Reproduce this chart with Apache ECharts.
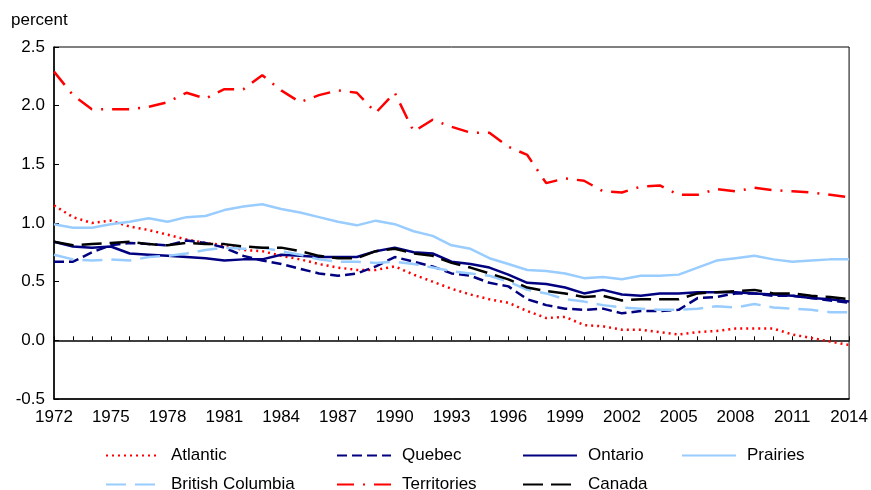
<!DOCTYPE html>
<html>
<head>
<meta charset="utf-8">
<script src="https://cdn.jsdelivr.net/npm/echarts@6/dist/echarts.min.js"></script>
<style>
  html, body { margin: 0; padding: 0; background: #fff; }
  #chart { width: 871px; height: 490px; }
</style>
</head>
<body>
<div id="chart"></div>
<script>
const years = [1972, 1973, 1974, 1975, 1976, 1977, 1978, 1979, 1980, 1981, 1982, 1983, 1984, 1985,
  1986, 1987, 1988, 1989, 1990, 1991, 1992, 1993, 1994, 1995, 1996, 1997, 1998, 1999, 2000,
  2001, 2002, 2003, 2004, 2005, 2006, 2007, 2008, 2009, 2010, 2011, 2012, 2013, 2014];

const atlantic = [1.15, 1.05, 1.00, 1.02, 0.97, 0.94, 0.90, 0.86, 0.83, 0.81, 0.77, 0.76, 0.72, 0.69,
  0.65, 0.62, 0.60, 0.60, 0.63, 0.56, 0.50, 0.44, 0.39, 0.35, 0.32, 0.25, 0.19, 0.20, 0.13,
  0.12, 0.09, 0.09, 0.07, 0.05, 0.07, 0.08, 0.10, 0.10, 0.10, 0.05, 0.02, -0.01, -0.04];
const quebec = [0.67, 0.67, 0.75, 0.81, 0.83, 0.82, 0.81, 0.85, 0.83, 0.79, 0.72, 0.68, 0.65, 0.61,
  0.57, 0.55, 0.57, 0.63, 0.71, 0.67, 0.63, 0.57, 0.55, 0.49, 0.46, 0.35, 0.30, 0.27, 0.26,
  0.27, 0.23, 0.25, 0.25, 0.26, 0.36, 0.37, 0.40, 0.40, 0.38, 0.38, 0.36, 0.34, 0.32];
const ontario = [0.84, 0.80, 0.79, 0.80, 0.74, 0.73, 0.72, 0.71, 0.70, 0.68, 0.69, 0.69, 0.73, 0.72,
  0.71, 0.71, 0.71, 0.76, 0.79, 0.75, 0.74, 0.67, 0.65, 0.62, 0.56, 0.49, 0.48, 0.45, 0.40,
  0.43, 0.39, 0.38, 0.40, 0.40, 0.41, 0.41, 0.41, 0.40, 0.39, 0.38, 0.36, 0.35, 0.33];
const prairies = [0.99, 0.96, 0.96, 0.99, 1.01, 1.04, 1.01, 1.05, 1.06, 1.11, 1.14, 1.16, 1.12, 1.09,
  1.05, 1.01, 0.98, 1.02, 0.99, 0.93, 0.89, 0.81, 0.78, 0.70, 0.65, 0.60, 0.59, 0.57, 0.53,
  0.54, 0.52, 0.55, 0.55, 0.56, 0.62, 0.68, 0.70, 0.72, 0.69, 0.67, 0.68, 0.69, 0.69];
const britishColumbia = [0.73, 0.69, 0.68, 0.69, 0.68, 0.71, 0.72, 0.74, 0.77, 0.79, 0.78, 0.79, 0.76, 0.73,
  0.69, 0.67, 0.67, 0.66, 0.67, 0.65, 0.62, 0.59, 0.57, 0.55, 0.50, 0.43, 0.40, 0.35, 0.33,
  0.30, 0.28, 0.27, 0.26, 0.26, 0.27, 0.29, 0.28, 0.31, 0.28, 0.27, 0.26, 0.24, 0.24];
const territories = [2.29, 2.09, 1.97, 1.97, 1.97, 1.99, 2.03, 2.11, 2.06, 2.14, 2.14, 2.26, 2.13, 2.03,
  2.09, 2.13, 2.11, 1.94, 2.11, 1.78, 1.88, 1.82, 1.77, 1.77, 1.65, 1.58, 1.34, 1.38, 1.36,
  1.27, 1.26, 1.31, 1.32, 1.24, 1.24, 1.29, 1.27, 1.30, 1.28, 1.27, 1.26, 1.24, 1.22];
const canada = [0.84, 0.81, 0.82, 0.83, 0.84, 0.82, 0.81, 0.83, 0.82, 0.82, 0.80, 0.79, 0.79, 0.76,
  0.72, 0.70, 0.70, 0.76, 0.78, 0.74, 0.72, 0.66, 0.62, 0.57, 0.52, 0.45, 0.42, 0.40, 0.37,
  0.38, 0.34, 0.35, 0.35, 0.35, 0.40, 0.41, 0.42, 0.43, 0.40, 0.40, 0.38, 0.37, 0.35];

const yTicks = [-0.5, 0, 0.5, 1, 1.5, 2, 2.5];
const font = '"Liberation Sans", Arial, sans-serif';

const pairs = (vals) => years.map((y, i) => [y, vals[i]]);

function line(name, vals, color, width, type) {
  return {
    name: name,
    type: 'line',
    xAxisIndex: 0,
    data: pairs(vals),
    symbol: 'none',
    showSymbol: false,
    lineStyle: { color: color, width: width, type: type, cap: 'butt' },
    itemStyle: { color: color },
    animation: false
  };
}

// one legend per entry so the two rows line up in columns
function legendItem(name, left, top) {
  return {
    data: [name],
    left: left,
    top: top,
    padding: 0,
    itemWidth: 54,
    itemHeight: 14,
    itemStyle: { opacity: 0 },
    textStyle: { fontFamily: font, fontSize: 17, color: '#000', padding: [0, 0, 0, 6] }
  };
}

const myChart = echarts.init(document.getElementById('chart'), null, { renderer: 'canvas' });

const option = {
  animation: false,
  title: {
    text: 'percent',
    left: 6,
    top: 7,
    textStyle: { fontFamily: font, fontSize: 17, fontWeight: 'normal', color: '#000' }
  },
  grid: {
    left: 54, right: 16, top: 47, bottom: 91,
    show: true, borderColor: '#000', borderWidth: 1, backgroundColor: 'transparent'
  },
  legend: [
    legendItem('Atlantic', 105, 447),
    legendItem('Quebec', 336, 447),
    legendItem('Ontario', 522, 447),
    legendItem('Prairies', 681, 447),
    legendItem('British Columbia', 105, 476),
    legendItem('Territories', 336, 476),
    legendItem('Canada', 522, 476)
  ],
  xAxis: [
    {
      type: 'value',
      min: 1972, max: 2014, interval: 1,
      position: 'bottom',
      axisLine: { onZero: true, lineStyle: { color: '#000', width: 1.5 } },
      axisTick: { inside: true, length: 4, lineStyle: { color: '#000' } },
      axisLabel: { show: false },
      splitLine: { show: false }
    },
    {
      type: 'value',
      min: 1972, max: 2014, interval: 1,
      position: 'bottom',
      axisLine: { onZero: false, lineStyle: { color: '#000', width: 1.5 } },
      axisTick: { show: false },
      axisLabel: {
        margin: 10,
        fontFamily: font, fontSize: 17, color: '#000',
        formatter: (v) => ((v - years[0]) % 3 === 0 ? String(v) : '')
      },
      splitLine: { show: false }
    }
  ],
  yAxis: {
    type: 'value',
    min: yTicks[0], max: yTicks[yTicks.length - 1], interval: 0.5,
    axisLine: { show: true, onZero: false, lineStyle: { color: '#000', width: 1.5 } },
    axisTick: { show: true, inside: true, length: 5, lineStyle: { color: '#000' } },
    axisLabel: {
      margin: 9,
      fontFamily: font, fontSize: 17, color: '#000',
      formatter: (v) => v.toFixed(1)
    },
    splitLine: { show: false }
  },
  series: [
    line('Atlantic', atlantic, '#ff0000', 2.5, [2, 4]),
    line('Quebec', quebec, '#000080', 2.5, [10, 5]),
    line('Ontario', ontario, '#000080', 2.5, 'solid'),
    line('Prairies', prairies, '#99ccff', 2.5, 'solid'),
    line('British Columbia', britishColumbia, '#99ccff', 2.5, [20, 9]),
    line('Territories', territories, '#ff0000', 2.5, [17, 9, 2, 9]),
    line('Canada', canada, '#000000', 2.5, [20, 8])
  ]
};

option && myChart.setOption(option);
</script>
</body>
</html>
